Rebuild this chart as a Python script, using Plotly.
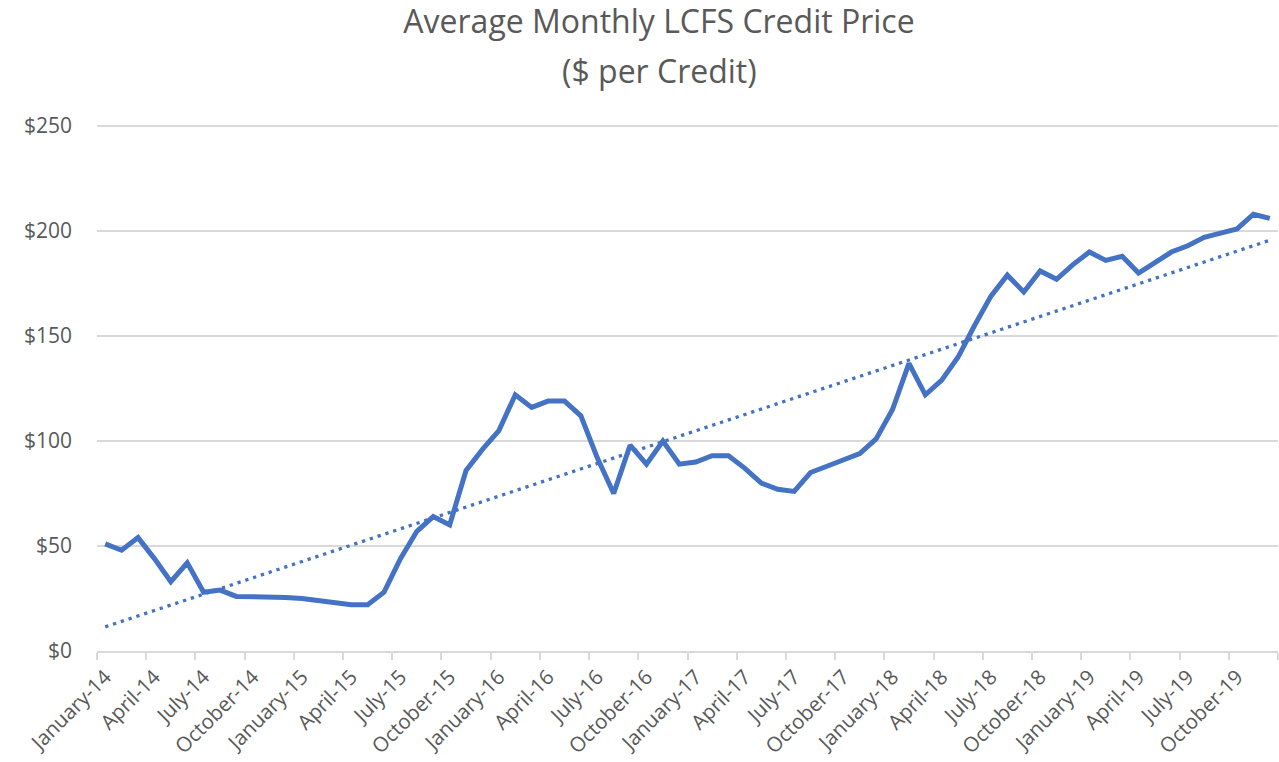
import numpy as np
import plotly.graph_objects as go

month_names = ["January", "February", "March", "April", "May", "June", "July",
               "August", "September", "October", "November", "December"]
years = ["14", "15", "16", "17", "18", "19"]
months = [f"{m}-{y}" for y in years for m in month_names]

prices = [51, 48, 54, 44, 33, 42, 28, 29, 26, 26, 26, 25.5,
          25, 24, 23, 22, 22, 28, 44, 57, 64, 60, 86, 96,
          105, 122, 116, 119, 119, 112, 92, 75, 98, 89, 100, 89,
          90, 93, 93, 87, 80, 77, 76, 85, 88, 91, 94, 101,
          115, 137, 122, 129, 140, 155, 169, 179, 171, 181, 177, 184,
          190, 186, 188, 180, 185, 190, 193, 197, 199, 201, 208, 206]

y_ticks = [0, 50, 100, 150, 200, 250]
y_tick_text = ["$0", "$50", "$100", "$150", "$200", "$250"]

title_line1 = "Average Monthly LCFS Credit Price"
title_line2 = "($ per Credit)"

idx = np.arange(len(months))
slope, intercept = np.polyfit(idx, np.array(prices, dtype=float), 1)
trend = slope * idx + intercept

label_idx = list(range(0, len(months), 3))
label_text = [months[i] for i in label_idx]
boundaries = [i - 0.5 for i in range(0, len(months) + 1, 3)]

BLUE = "#4472C4"
GREY = "#595959"
GRID = "#D9D9D9"
FONT = "Open Sans"
W, H = 1279, 762

fig = go.Figure()
fig.add_trace(go.Scatter(x=idx, y=prices, mode="lines",
                         line=dict(color=BLUE, width=5), xaxis="x", yaxis="y",
                         showlegend=False, hoverinfo="skip"))
fig.add_trace(go.Scatter(x=idx, y=trend, mode="lines",
                         line=dict(color=BLUE, width=3.3, dash="3.3px,4.9px"),
                         xaxis="x2", yaxis="y", showlegend=False, hoverinfo="skip"))

fig.update_layout(
    width=W, height=H,
    margin=dict(l=97, r=1, t=125, b=111, autoexpand=False),
    paper_bgcolor="white", plot_bgcolor="white",
    font=dict(family=FONT, color=GREY),
    title=dict(text=title_line1,
               x=659 / W, xanchor="center", y=1 - 22 / H, yanchor="middle",
               yref="container", font=dict(size=32, color=GREY, family=FONT)),
    annotations=[dict(text=title_line2, xref="paper", yref="paper",
                      x=(659 - 97) / (W - 98), y=(H - 111 - 70) / (H - 236),
                      xanchor="center", yanchor="middle", showarrow=False,
                      font=dict(size=32, color=GREY, family=FONT))],
    xaxis=dict(range=[-0.5, len(months) - 0.5], tickmode="array",
               tickvals=boundaries, showticklabels=False, ticks="outside",
               ticklen=7, tickcolor=GRID, tickwidth=1.5, showgrid=False,
               showline=True, linecolor=GRID, linewidth=1.5, zeroline=False,
               automargin=False),
    xaxis2=dict(range=[-0.5, len(months) - 0.5], overlaying="x", side="bottom",
                anchor="y", tickmode="array", tickvals=label_idx,
                ticktext=label_text, tickangle=-45, ticks="",
                tickfont=dict(size=20.5, color=GREY, family=FONT),
                ticklabelstandoff=9,
                showgrid=False, showline=False, zeroline=False, automargin=False),
    yaxis=dict(range=[0, 250.5], tickmode="array", tickvals=y_ticks,
               ticktext=y_tick_text, showgrid=True, gridcolor=GRID, gridwidth=1.5,
               zeroline=False, showline=False, ticks="",
               tickfont=dict(size=21, color=GREY, family=FONT),
               ticklabelstandoff=24, automargin=False),
)

fig.write_html("out.html", config={"displayModeBar": False},
               post_script="document.body.style.margin='0';document.body.style.padding='0';")
